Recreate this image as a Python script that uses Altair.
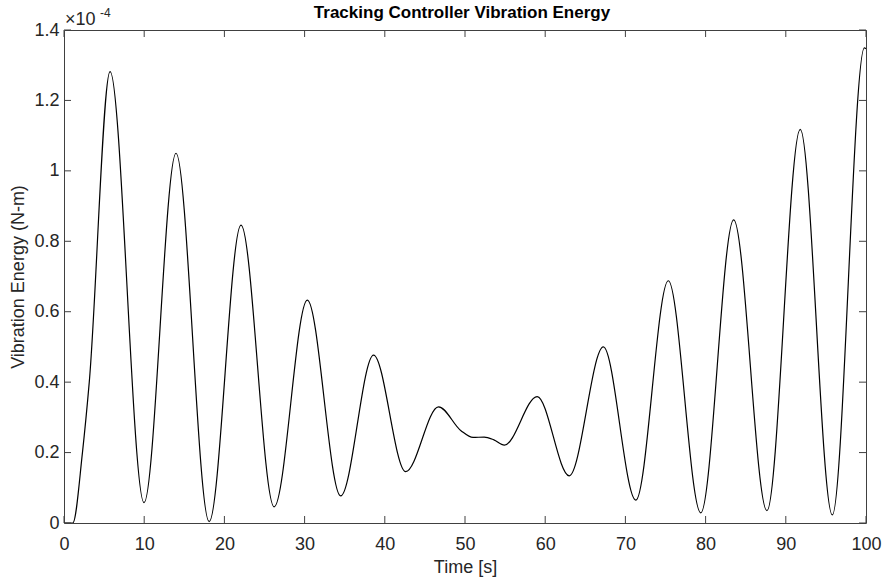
import altair as alt
import pandas as pd

# ---- data (energy in units of 1e-4 N-m) ----
time_s = [0, 1.1, 2.3, 3.15, 5.74, 9.98, 13.97, 18.1, 22.07, 26.2, 30.34, 34.5,
          38.6, 42.6, 46.7, 49.5, 51.0, 52.4, 53.6, 54.9, 59.0, 63.0, 67.25,
          71.3, 75.35, 79.4, 83.5, 87.65, 91.8, 95.8, 99.8, 100]
energy_e4 = [0, 0, 0.2, 0.4, 1.282, 0.058, 1.050, 0.004, 0.846, 0.046, 0.633, 0.077,
             0.477, 0.146, 0.330, 0.262, 0.243, 0.244, 0.236, 0.221, 0.359, 0.134, 0.500,
             0.065, 0.688, 0.029, 0.861, 0.035, 1.118, 0.023, 1.349, 1.347]

x_ticks = [0, 10, 20, 30, 40, 50, 60, 70, 80, 90, 100]
y_ticks = [0, 0.2, 0.4, 0.6, 0.8, 1, 1.2, 1.4]

title_text = "Tracking Controller Vibration Energy"
x_title = "Time [s]"
y_title = "Vibration Energy (N-m)"
exp_base = "×10"
exp_power = "-4"

W, H = 802, 493
AX = "#404040"
TXT = "#262626"
FONT = "Liberation Sans"
TICK = 7

df = pd.DataFrame({"t": time_s, "v": energy_e4})
xt = pd.DataFrame({"t": x_ticks})
yt = pd.DataFrame({"v": y_ticks})

xs = alt.Scale(domain=[0, 100], nice=False, zero=False)
ys = alt.Scale(domain=[0, 1.4], nice=False)

x_axis = alt.Axis(
    values=x_ticks, title=x_title, grid=False, domain=False, tickSize=0,
    labelPadding=12, labelFontSize=18, labelColor=TXT, labelFont=FONT,
    titleFontSize=18, titleFont=FONT, titleColor=TXT, titleFontWeight="normal",
    titleX=W / 2, titleY=49, titleBaseline="alphabetic", titleAnchor="middle",
    labelFlush=False, format="d")
y_axis = alt.Axis(
    values=y_ticks, title=y_title, grid=False, domain=False, tickSize=0,
    labelPadding=5, labelFontSize=18, labelColor=TXT, labelFont=FONT,
    titleFontSize=18, titleFont=FONT, titleColor=TXT, titleFontWeight="normal",
    titleX=-41, titleY=H / 2, titleAngle=270, titleBaseline="alphabetic",
    titleAnchor="middle", labelFlush=False, format=".2~f")

line = alt.Chart(df).mark_line(
    color="black", strokeWidth=1.2, interpolate="monotone", clip=True
).encode(
    x=alt.X("t:Q", scale=xs, axis=x_axis),
    y=alt.Y("v:Q", scale=ys, axis=y_axis),
)

bottom = alt.Chart(xt).mark_rule(color=AX, strokeWidth=1).encode(
    x=alt.X("t:Q", scale=xs, axis=x_axis), y=alt.value(H), y2=alt.value(H - TICK))
top = alt.Chart(xt).mark_rule(color=AX, strokeWidth=1).encode(
    x=alt.X("t:Q", scale=xs, axis=x_axis), y=alt.value(0), y2=alt.value(TICK))
left = alt.Chart(yt).mark_rule(color=AX, strokeWidth=1).encode(
    y=alt.Y("v:Q", scale=ys, axis=y_axis), x=alt.value(0), x2=alt.value(TICK))
right = alt.Chart(yt).mark_rule(color=AX, strokeWidth=1).encode(
    y=alt.Y("v:Q", scale=ys, axis=y_axis), x=alt.value(W), x2=alt.value(W - TICK))

title = alt.Chart(pd.DataFrame({"s": [title_text]})).mark_text(
    font=FONT, fontSize=17, fontWeight="bold", color="black",
    align="center", baseline="alphabetic"
).encode(text="s:N", x=alt.value(W / 2 - 3), y=alt.value(-12))

exp1 = alt.Chart(pd.DataFrame({"s": [exp_base]})).mark_text(
    font=FONT, fontSize=18, color=TXT, align="left", baseline="alphabetic"
).encode(text="s:N", x=alt.value(1), y=alt.value(-5))

exp2 = alt.Chart(pd.DataFrame({"s": [exp_power]})).mark_text(
    font=FONT, fontSize=12, color=TXT, align="left", baseline="alphabetic"
).encode(text="s:N", x=alt.value(36), y=alt.value(-13))

chart = alt.layer(line, bottom, top, left, right, title, exp1, exp2).properties(
    width=W, height=H,
    autosize=alt.AutoSizeParams(type="none"),
    padding={"left": 64, "top": 30, "right": 17, "bottom": 60},
    background="white",
).configure_view(stroke=AX, strokeWidth=1)

chart.save("out.html", embed_options={"renderer": "svg", "actions": False})
